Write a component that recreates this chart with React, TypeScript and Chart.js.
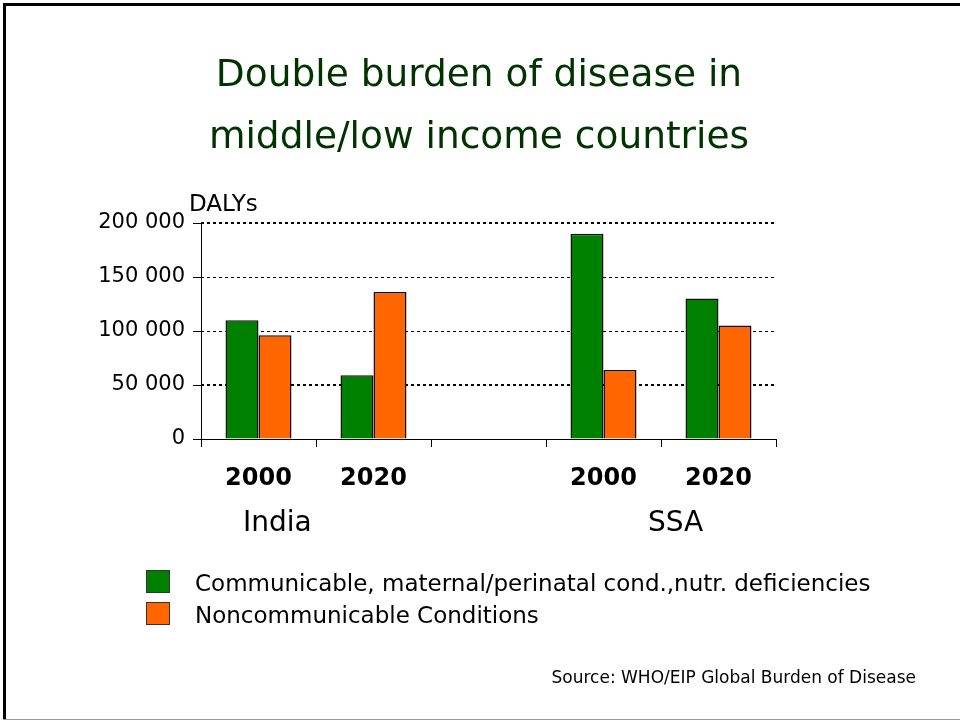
import React, { useEffect, useRef } from "react";
import { Chart, registerables } from "chart.js";

Chart.register(...registerables);

// Year categories; the empty slot separates the two regions
const categories = ["2000", "2020", "", "2000", "2020"];
const communicable = [110000, 59000, null, 190000, 130000];
const noncommunicable = [96000, 136000, null, 64000, 105000];
const seriesNames = [
  "Communicable, maternal/perinatal cond.,nutr. deficiencies",
  "Noncommunicable Conditions",
];
const seriesColors = ["#008000", "#ff6600"];
const yTicks = [0, 50000, 100000, 150000, 200000];
const heavyRules = [50000, 200000];
const groupLabels = ["India", "SSA"];

const FONT = '"DejaVu Sans", "Liberation Sans", sans-serif';

const formatThousands = (v: number) =>
  String(v).replace(/\B(?=(\d{3})+(?!\d))/g, " ");

// Horizontal dotted rules behind the bars
const ruleLines = {
  id: "ruleLines",
  beforeDatasetsDraw(chart: any) {
    const { ctx, chartArea, scales } = chart;
    const y = scales.y;
    ctx.save();
    ctx.strokeStyle = "#000";
    for (const v of yTicks) {
      if (v === 0) continue;
      const heavy = heavyRules.includes(v);
      const py = Math.round(y.getPixelForValue(v));
      ctx.lineWidth = heavy ? 2 : 1;
      ctx.setLineDash([3, 3]);
      ctx.beginPath();
      const yy = heavy ? py : py + 0.5;
      ctx.moveTo(chartArea.left, yy);
      ctx.lineTo(chartArea.right, yy);
      ctx.stroke();
    }
    ctx.restore();
  },
};

function BurdenChart() {
  const ref = useRef<HTMLCanvasElement | null>(null);

  useEffect(() => {
    if (!ref.current) return;
    const chart = new Chart(ref.current, {
      type: "bar",
      data: {
        labels: categories,
        datasets: [
          {
            label: seriesNames[0],
            data: communicable,
            backgroundColor: seriesColors[0],
            borderColor: "#111",
            borderWidth: 1.5,
          },
          {
            label: seriesNames[1],
            data: noncommunicable,
            backgroundColor: seriesColors[1],
            borderColor: "#111",
            borderWidth: 1.5,
          },
        ],
      },
      options: {
        responsive: false,
        animation: false,
        events: [],
        layout: { padding: { top: 223, right: 184, bottom: 222, left: 0 } },
        datasets: {
          bar: { categoryPercentage: 0.574, barPercentage: 1 },
        },
        plugins: {
          legend: { display: false },
          tooltip: { enabled: false },
          title: { display: false },
        },
        scales: {
          x: {
            afterFit: (s: any) => {
              s.height = 60;
            },
            grid: {
              display: true,
              offset: true,
              drawOnChartArea: false,
              drawTicks: true,
              tickLength: 8,
              tickColor: "#000",
              tickWidth: 1,
            },
            border: { display: true, color: "#000", width: 1 },
            ticks: {
              color: "#000",
              padding: 17,
              maxRotation: 0,
              autoSkip: false,
              font: { family: FONT, size: 24, weight: "bold" },
            },
          },
          y: {
            min: 0,
            max: 200000,
            afterFit: (s: any) => {
              s.width = 201;
            },
            afterBuildTicks: (s: any) => {
              s.ticks = yTicks.map((v) => ({ value: v }));
            },
            grid: {
              display: true,
              drawOnChartArea: false,
              drawTicks: true,
              tickLength: 8,
              tickColor: "#000",
              tickWidth: 1,
            },
            border: { display: true, color: "#000", width: 1 },
            ticks: {
              color: "#000",
              padding: 8,
              font: { family: FONT, size: 21 },
              callback: (v: any) => formatThousands(Number(v)),
            },
          },
        },
      },
      plugins: [ruleLines],
    });
    return () => chart.destroy();
  }, []);

  return (
    <canvas
      ref={ref}
      width={960}
      height={721}
      style={{ position: "absolute", left: 0, top: 0, width: 960, height: 721 }}
    />
  );
}

export default function App() {
  const text: React.CSSProperties = {
    position: "absolute",
    fontFamily: FONT,
    color: "#000",
    whiteSpace: "nowrap",
    margin: 0,
  };
  return (
    <div
      style={{
        position: "absolute",
        left: 0,
        top: 0,
        width: 960,
        height: 721,
        background: "#fff",
        overflow: "hidden",
      }}
    >
      {/* slide frame */}
      <div
        style={{
          position: "absolute",
          left: 3,
          top: 3,
          width: 957,
          height: 716,
          borderLeft: "3px solid #000",
          borderTop: "3px solid #000",
          boxSizing: "border-box",
        }}
      />
      <div
        style={{
          position: "absolute",
          left: 3,
          top: 719,
          width: 957,
          height: 1,
          background: "#999",
        }}
      />

      <BurdenChart />

      <div
        style={{
          ...text,
          left: 0,
          top: 42,
          width: 958,
          textAlign: "center",
          fontSize: 37.5,
          lineHeight: "62px",
          color: "#003300",
        }}
      >
        Double burden of disease in
        <br />
        middle/low income countries
      </div>

      <div style={{ ...text, left: 189, top: 192, fontSize: 23, lineHeight: "23px" }}>
        DALYs
      </div>

      <div style={{ ...text, left: 243, top: 508, fontSize: 28, lineHeight: "28px" }}>
        {groupLabels[0]}
      </div>
      <div style={{ ...text, left: 648, top: 508, fontSize: 28, lineHeight: "28px" }}>
        {groupLabels[1]}
      </div>

      {seriesNames.map((name, i) => (
        <React.Fragment key={name}>
          <div
            style={{
              position: "absolute",
              left: 146,
              top: 570 + i * 32,
              width: 24,
              height: 23,
              background: seriesColors[i],
              border: "1px solid #333",
              boxSizing: "border-box",
            }}
          />
          <div
            style={{
              ...text,
              left: 195,
              top: 567 + i * 32,
              fontSize: 23,
              lineHeight: "32px",
            }}
          >
            {name}
          </div>
        </React.Fragment>
      ))}

      <div
        style={{
          ...text,
          right: 44,
          top: 669,
          fontSize: 17,
          lineHeight: "17px",
        }}
      >
        Source: WHO/EIP Global Burden of Disease
      </div>
    </div>
  );
}
